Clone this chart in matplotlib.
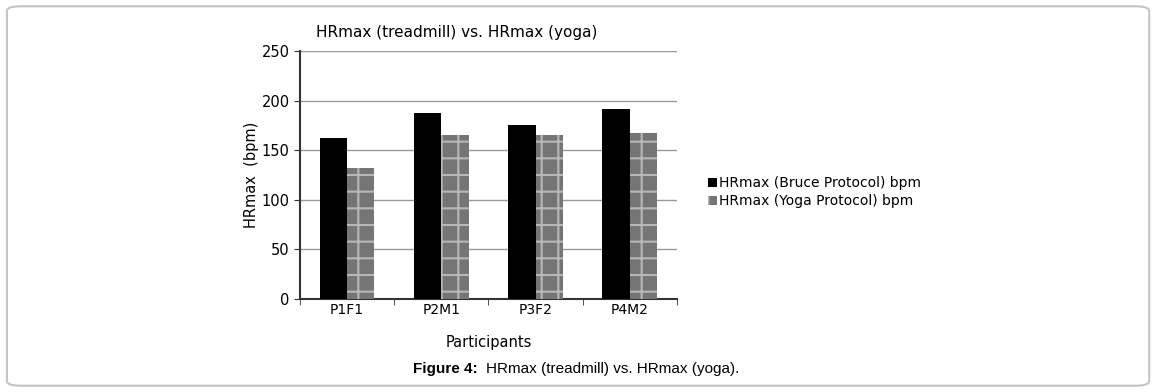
import matplotlib.pyplot as plt
from matplotlib.patches import FancyBboxPatch
import numpy as np

participants = ['P1F1', 'P2M1', 'P3F2', 'P4M2']
bruce_bpm = [162, 187, 175, 192]
yoga_bpm = [132, 165, 165, 167]

plt.rcParams['font.family'] = ['DejaVu Sans']
plt.rcParams['hatch.linewidth'] = 1.5

fig = plt.figure(figsize=(11.55, 3.92), dpi=100)

# outer rounded frame
frame = FancyBboxPatch((0.006, 0.016), 0.989, 0.968, boxstyle='round,pad=0,rounding_size=0.012',
                       transform=fig.transFigure, facecolor='none', edgecolor='#c4c4c4', lw=1.5)
fig.patches.append(frame)

ax = fig.add_axes([0.2597, 0.2372, 0.3264, 0.6327])
x = np.arange(len(participants))
w = 0.29
ax.bar(x - w, bruce_bpm, w, align='edge', color='black', zorder=3,
       label='HRmax (Bruce Protocol) bpm')
ax.bar(x, yoga_bpm, w, align='edge', color='#757575', edgecolor='#b8b8b8', hatch='+',
       lw=0, zorder=3, label='HRmax (Yoga Protocol) bpm')

ax.set_xlim(-0.5, 3.5)
ax.set_ylim(0, 250)
ax.set_yticks(range(0, 251, 50))
ax.yaxis.grid(True, color='#9a9a9a', lw=1)
ax.set_axisbelow(True)
ax.set_xticks(x)
ax.set_xticklabels(participants, fontsize=10)
ax.tick_params(axis='x', length=0, pad=3)
ax.set_xticks(np.arange(-0.5, 4, 1), minor=True)
ax.tick_params(axis='x', which='minor', length=4, direction='out', color='#333333')
ax.tick_params(axis='y', labelsize=10.5, length=4, color='#333333')
for s in ['top', 'right']:
    ax.spines[s].set_visible(False)
ax.spines['left'].set_color('#333333')
ax.spines['bottom'].set_color('#333333')
ax.spines['left'].set_linewidth(1.5)
ax.spines['bottom'].set_linewidth(1.5)

ax.set_title('HRmax (treadmill) vs. HRmax (yoga)', fontsize=11, pad=10, x=0.415)
ax.set_xlabel('Participants', fontsize=10.5, labelpad=13)
ax.set_ylabel('HRmax  (bpm)', fontsize=10.5, labelpad=2)

ax.legend(loc='center left', bbox_to_anchor=(1.05, 0.43), frameon=False, fontsize=10,
          handlelength=0.6, handleheight=0.6, handletextpad=0.2, labelspacing=0.3)

fig.text(0.4135, 0.058, 'Figure 4:', ha='right', va='center', fontsize=11,
         fontweight='bold', family='Liberation Sans', fontstretch='normal')
fig.text(0.4205, 0.058, 'HRmax (treadmill) vs. HRmax (yoga).', ha='left', va='center',
         fontsize=11, family='Liberation Sans', fontstretch='normal')

fig.savefig('out.png', dpi=100)
